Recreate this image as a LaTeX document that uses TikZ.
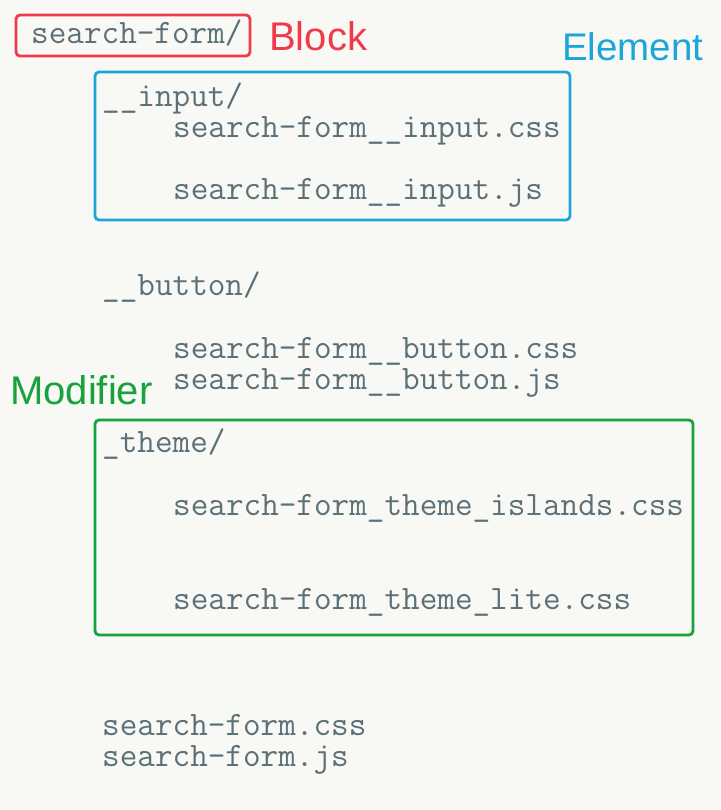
\documentclass[tikz,border=0pt]{standalone}
\usepackage{fontspec}
\setmainfont{Liberation Sans}
\setmonofont{Latin Modern Mono}
\definecolor{bgc}{HTML}{F8F8F5}
\definecolor{codec}{HTML}{5C7078}
\definecolor{blockc}{HTML}{F03A4C}
\definecolor{elemc}{HTML}{1CA6D8}
\definecolor{modc}{HTML}{17A23E}
\begin{document}
\begin{tikzpicture}[x=1pt,y=-1pt,
  code/.style={anchor=base west,inner sep=0pt,text=codec,font=\ttfamily\fontsize{34.2}{35}\selectfont},
  lbl/.style={anchor=base west,inner sep=0pt,font=\fontsize{40}{42}\selectfont},
  frame/.style={line width=2.8pt,rounded corners=4pt}]
\fill[bgc] (0,0) rectangle (720,810);
\useasboundingbox (0,0) rectangle (720,810);
% frames
\draw[frame,blockc] (16,15) rectangle (250,56);
\draw[frame,elemc] (95,72) rectangle (570,220);
\draw[frame,modc] (95,420) rectangle (693,635);
% labels
\node[lbl,text=blockc] (block) at (269,51) {Block};
\node[lbl,text=elemc] (element) at (562,61) {\fontsize{38.5}{40}\selectfont Element};
\node[lbl,text=modc] (modifier) at (10,404) {Modifier};
% code
\node[code] (root) at (31,44) {search-form/};
\node[code] (inp) at (102,107) {\_\_input/};
\node[code] (inpcss) at (173,138) {search-form\_\_input.css};
\node[code] (inpjs) at (173,200) {search-form\_\_input.js};
\node[code] (btn) at (102,295) {\_\_button/};
\node[code] (btncss) at (173,358) {search-form\_\_button.css};
\node[code] (btnjs) at (173,389) {search-form\_\_button.js};
\node[code] (theme) at (102,452) {\_theme/};
\node[code] (isl) at (173,515) {search-form\_theme\_islands.css};
\node[code] (lite) at (173,609) {search-form\_theme\_lite.css};
\node[code] (css) at (102,735) {search-form.css};
\node[code] (js) at (102,766) {search-form.js};
\end{tikzpicture}
\end{document}
